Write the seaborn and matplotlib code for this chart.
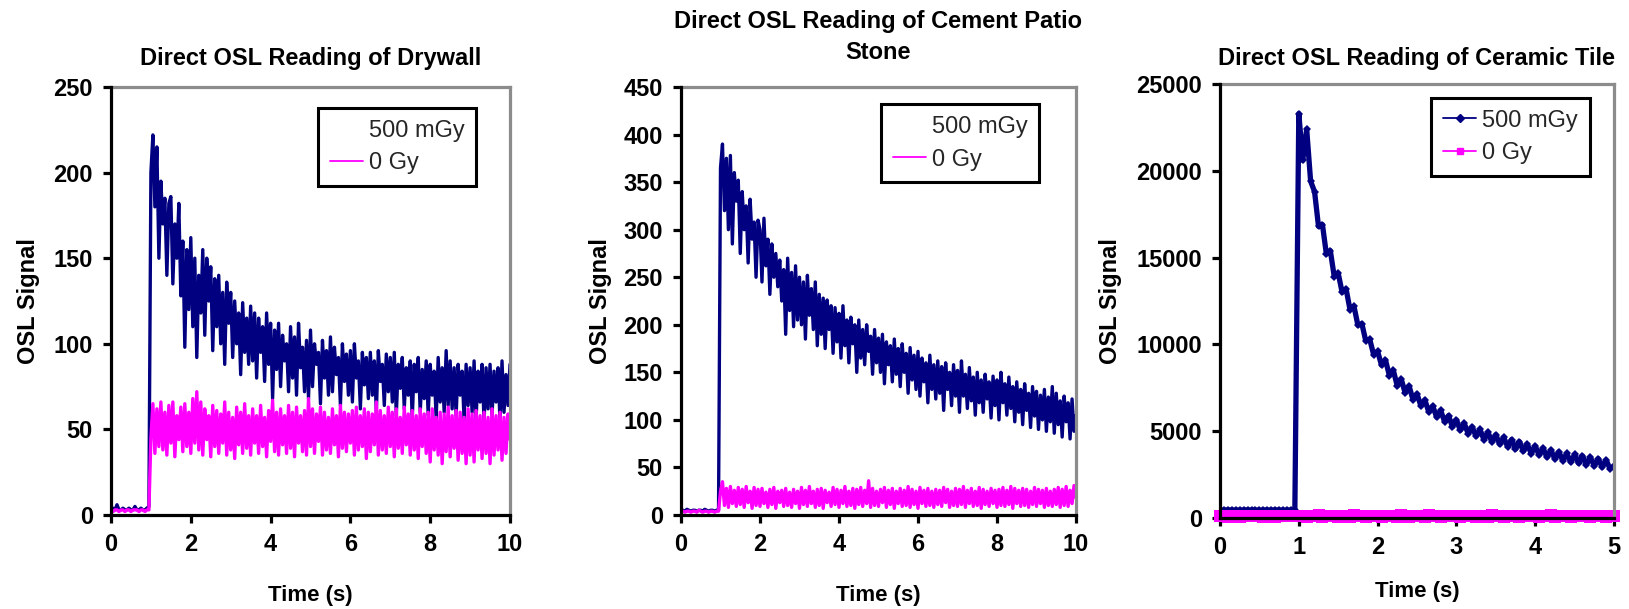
import numpy as np
import pandas as pd
import matplotlib
matplotlib.use("Agg")
import matplotlib.pyplot as plt
import seaborn as sns
from matplotlib.lines import Line2D

# ---------------- data ----------------
series_labels = ["500 mGy", "0 Gy"]
titles = ["Direct OSL Reading of Drywall",
          "Direct OSL Reading of Cement Patio\nStone",
          "Direct OSL Reading of Ceramic Tile"]
x_label = "Time (s)"
y_label = "OSL Signal"

time_10s = np.round(np.arange(0, 10.001, 0.05), 2)   # 201 samples, 0..10 s
time_5s = np.round(np.arange(0, 5.001, 0.05), 2)     # 101 samples, 0..5 s

drywall_500 = [3, 4, 3, 6, 3, 3, 4, 3, 3, 4, 3, 3, 5, 3, 3, 4, 3, 3, 4, 5,
               200, 222, 180, 215, 150, 195, 170, 185, 140, 182,
               186, 135, 170, 150, 182, 128, 160, 98, 155, 120,
               162, 110, 150, 92, 140, 118, 155, 105, 150, 125,
               145, 96, 138, 110, 140, 100, 130, 88, 136, 112,
               130, 92, 125, 100, 118, 82, 124, 95, 115, 88,
               122, 90, 118, 80, 115, 95, 110, 78, 118, 88,
               112, 68, 108, 85, 112, 75, 105, 90, 100, 72,
               110, 80, 104, 70, 112, 86, 98, 72, 102, 68,
               108, 75, 100, 88, 95, 65, 102, 80, 96, 70,
               104, 72, 98, 82, 92, 64, 100, 78, 94, 70,
               96, 66, 100, 80, 90, 62, 95, 76, 92, 68,
               95, 70, 90, 60, 96, 78, 88, 64, 94, 72,
               92, 66, 95, 58, 88, 74, 92, 62, 86, 70,
               90, 56, 88, 72, 92, 60, 85, 68, 90, 58,
               88, 70, 84, 56, 92, 66, 86, 60, 96, 64,
               90, 62, 86, 58, 88, 70, 84, 55, 88, 64,
               86, 60, 90, 56, 84, 66, 88, 54, 86, 62,
               88, 58, 84, 66, 86, 54, 90, 60, 82, 64,
               88]

drywall_0 = [3, 2, 3, 3, 2, 3, 3, 2, 3, 3, 2, 3, 3, 3, 2, 3, 3, 2, 3, 3,
             45, 65, 36, 62, 40, 66, 38, 60, 35, 64,
             42, 66, 34, 58, 44, 63, 37, 65, 40, 60,
             36, 68, 42, 72, 38, 66, 35, 62, 44, 58,
             34, 64, 40, 61, 36, 59, 42, 66, 35, 60,
             38, 57, 33, 63, 41, 60, 36, 65, 39, 58,
             35, 62, 42, 58, 36, 64, 40, 57, 34, 61,
             43, 67, 37, 60, 35, 62, 41, 58, 36, 64,
             39, 60, 34, 63, 42, 58, 37, 61, 35, 68,
             40, 62, 36, 59, 43, 63, 35, 60, 38, 57,
             36, 62, 41, 58, 34, 64, 39, 60, 37, 59,
             42, 61, 35, 63, 38, 58, 40, 62, 33, 60,
             37, 59, 41, 66, 35, 61, 38, 58, 36, 63,
             40, 60, 34, 62, 39, 57, 36, 63, 41, 59,
             35, 61, 38, 58, 33, 62, 40, 59, 36, 60,
             31, 62, 38, 57, 35, 60, 30, 59, 37, 63,
             34, 58, 39, 61, 32, 60, 36, 57, 30, 62,
             35, 59, 31, 61, 38, 58, 33, 60, 36, 57,
             30, 62, 35, 58, 38, 60, 32, 57, 36, 59,
             44]

cement_500 = [5, 5, 4, 6, 5, 4, 5, 5, 4, 5, 5, 4, 6, 5, 4, 5, 5, 4, 5, 5,
              365, 390, 320, 375, 300, 378, 285, 360, 330, 352,
              275, 340, 300, 325, 265, 332, 290, 308, 250, 310,
              300, 245, 312, 262, 290, 232, 285, 250, 275, 240,
              268, 225, 258, 190, 270, 215, 255, 198, 262, 205,
              250, 200, 245, 185, 252, 210, 238, 195, 245, 178,
              232, 190, 228, 175, 226, 195, 220, 170, 218, 182,
              212, 165, 220, 178, 205, 160, 208, 180, 200, 150,
              205, 165, 195, 158, 200, 172, 188, 148, 195, 160,
              186, 150, 190, 138, 182, 158, 178, 140, 185, 148,
              175, 135, 180, 150, 170, 128, 176, 142, 168, 132,
              172, 125, 165, 140, 160, 118, 168, 132, 158, 122,
              162, 128, 156, 110, 160, 132, 150, 115, 158, 125,
              152, 108, 162, 125, 148, 112, 155, 120, 145, 105,
              150, 118, 142, 108, 148, 122, 140, 102, 146, 115,
              142, 100, 150, 118, 138, 105, 145, 112, 135, 98,
              140, 108, 132, 95, 138, 110, 128, 92, 135, 104,
              130, 90, 126, 100, 132, 88, 124, 98, 135, 86,
              128, 95, 120, 82, 125, 98, 118, 80, 122, 88,
              105]

cement_0 = [4, 4, 3, 4, 4, 3, 4, 4, 3, 5, 4, 3, 4, 4, 3, 4, 4, 3, 4, 4,
            25, 35, 10, 28, 8, 30, 12, 26, 9, 29,
            11, 27, 8, 30, 13, 25, 7, 29, 10, 27,
            9, 28, 12, 24, 8, 27, 11, 29, 7, 25,
            13, 26, 9, 28, 10, 24, 8, 27, 12, 25,
            7, 29, 11, 26, 9, 30, 12, 25, 8, 27,
            10, 28, 7, 26, 13, 24, 9, 29, 11, 27,
            8, 26, 12, 30, 9, 25, 10, 28, 7, 27,
            11, 29, 9, 26, 12, 36, 8, 28, 10, 25,
            9, 27, 13, 29, 8, 26, 11, 28, 7, 25,
            12, 28, 9, 26, 10, 30, 8, 27, 11, 25,
            7, 29, 12, 26, 9, 28, 10, 25, 8, 27,
            11, 26, 9, 29, 13, 27, 8, 25, 10, 28,
            9, 27, 11, 30, 8, 26, 12, 28, 9, 25,
            10, 29, 7, 27, 11, 25, 9, 28, 12, 26,
            8, 27, 10, 29, 9, 26, 11, 30, 7, 28,
            12, 26, 9, 28, 10, 27, 8, 25, 11, 29,
            9, 27, 12, 26, 8, 28, 10, 25, 9, 27,
            11, 29, 8, 27, 10, 30, 9, 26, 12, 31,
            18]

ceramic_500 = [460, 450, 470, 455, 465, 450, 460, 470, 455, 460,
               450, 465, 460, 455, 470, 460, 450, 465, 455, 460,
               23300, 20600, 22400, 19400, 18800, 16800, 16900, 15200, 15400, 13900,
               14100, 13000, 13200, 12000, 12200, 11100, 11200, 10200, 10300, 9400,
               9600, 8800, 9100, 8200, 8500, 7600, 8000, 7200, 7600, 6800,
               7150, 6450, 6800, 6100, 6450, 5800, 6200, 5550, 5900, 5250,
               5650, 5050, 5450, 4850, 5250, 4700, 5100, 4500, 4950, 4380,
               4800, 4240, 4650, 4110, 4520, 3960, 4400, 3840, 4250, 3710,
               4150, 3620, 4030, 3490, 3920, 3390, 3820, 3300, 3720, 3220,
               3660, 3150, 3580, 3070, 3500, 2990, 3420, 2920, 3340, 2830,
               3000]

ceramic_0 = [90, 110, 80, 100, 95, 85, 105, 90, 100, 95,
             110, 80, 95, 105, 85, 100, 90, 110, 95, 100,
             100, 140, 70, 120, 90, 150, 80, 130, 95, 115,
             70, 135, 105, 85, 145, 90, 120, 75, 130, 100,
             110, 80, 140, 95, 125, 70, 150, 105, 85, 130,
             95, 120, 80, 145, 100, 115, 75, 135, 90, 125,
             105, 85, 140, 95, 120, 70, 130, 110, 85, 145,
             100, 125, 80, 135, 95, 115, 75, 140, 105, 90,
             130, 80, 120, 95, 145, 85, 110, 100, 135, 75,
             120, 105, 90, 140, 80, 125, 95, 115, 70, 130,
             100]

x_ticks_10 = [0, 2, 4, 6, 8, 10]
x_ticks_5 = [0, 1, 2, 3, 4, 5]
y_ticks_dry = [0, 50, 100, 150, 200, 250]
y_ticks_cem = [0, 50, 100, 150, 200, 250, 300, 350, 400, 450]
y_ticks_cer = [0, 5000, 10000, 15000, 20000, 25000]

for name, arr, t in [("drywall_500", drywall_500, time_10s), ("drywall_0", drywall_0, time_10s),
                     ("cement_500", cement_500, time_10s), ("cement_0", cement_0, time_10s),
                     ("ceramic_500", ceramic_500, time_5s), ("ceramic_0", ceramic_0, time_5s)]:
    assert len(arr) == len(t), f"{name}: {len(arr)} vs {len(t)}"

df_dry = pd.DataFrame({x_label: time_10s, "500 mGy": drywall_500, "0 Gy": drywall_0})
df_cem = pd.DataFrame({x_label: time_10s, "500 mGy": cement_500, "0 Gy": cement_0})
df_cer = pd.DataFrame({x_label: time_5s, "500 mGy": ceramic_500, "0 Gy": ceramic_0})

# ---------------- style ----------------
sns.set_theme(style="white")
plt.rcParams["font.family"] = ["Liberation Sans", "DejaVu Sans"]

NAVY = "#000080"
MAGENTA = "#FF00FF"
GRAY = "#8C8C8C"

fig = plt.figure(figsize=(16.29, 6.09), dpi=100)
W, H = 1629.0, 609.0

def make_axes(left_px, right_px, top_px, bottom_px):
    return fig.add_axes([left_px / W, 1 - bottom_px / H,
                         (right_px - left_px) / W, (bottom_px - top_px) / H])

ax1 = make_axes(111, 510, 87, 515)
ax2 = make_axes(681, 1076, 87, 515)
ax3 = make_axes(1220, 1614, 84, 518)

def style_axes(ax, xlim, xticks, ylim, yticks, title, title_y, ylab_x, xlab_y, title_ls=1.2):
    ax.set_xlim(*xlim)
    ax.set_ylim(*ylim)
    ax.set_xticks(xticks)
    ax.set_yticks(yticks)
    ax.set_xticklabels([str(v) for v in xticks])
    ax.set_yticklabels([str(v) for v in yticks])
    for s in ["left", "bottom"]:
        ax.spines[s].set_color("black")
        ax.spines[s].set_linewidth(2.3)
        ax.spines[s].set_zorder(5)
    for s in ["top", "right"]:
        ax.spines[s].set_color(GRAY)
        ax.spines[s].set_linewidth(2.3)
    ax.tick_params(axis="both", direction="out", length=6, width=2.3, color="black",
                   labelsize=17, pad=7, left=True, bottom=True, labelcolor="black")
    for lbl in ax.get_xticklabels() + ax.get_yticklabels():
        lbl.set_fontweight("bold")
    ax.set_xlabel(x_label, fontsize=16, fontweight="bold", color="black")
    ax.set_ylabel(y_label, fontsize=17, fontweight="bold", color="black")
    ax.xaxis.set_label_coords(0.5, xlab_y)
    ax.xaxis.label.set_va("center")
    ax.yaxis.set_label_coords(ylab_x, 0.5)
    ax.yaxis.label.set_va("center")
    ax.text(0.5, title_y, title, transform=ax.transAxes, ha="center", va="center",
            fontsize=17, fontweight="bold", color="black", linespacing=title_ls)
    ax.set_facecolor("white")
    ax.grid(False)

# ---- panel 1: drywall ----
sns.lineplot(data=df_dry, x=x_label, y="500 mGy", ax=ax1, color=NAVY, lw=2.4, legend=False)
sns.lineplot(data=df_dry, x=x_label, y="0 Gy", ax=ax1, color=MAGENTA, lw=2.4, legend=False)
style_axes(ax1, (0, 10), x_ticks_10, (0, 250), y_ticks_dry, titles[0],
           (515 - 58) / 428, (29 - 111) / 399, (515 - 596) / 428)

# ---- panel 2: cement patio stone ----
sns.lineplot(data=df_cem, x=x_label, y="500 mGy", ax=ax2, color=NAVY, lw=2.4, legend=False)
sns.lineplot(data=df_cem, x=x_label, y="0 Gy", ax=ax2, color=MAGENTA, lw=2.4, legend=False)
style_axes(ax2, (0, 10), x_ticks_10, (0, 450), y_ticks_cem, titles[1],
           (515 - 37) / 428, (600 - 681) / 395, (515 - 596) / 428, title_ls=1.4)

# ---- panel 3: ceramic tile ----
sns.lineplot(data=df_cer, x=x_label, y="500 mGy", ax=ax3, color=NAVY, lw=3.8,
             marker="D", markersize=4, markeredgewidth=0, legend=False)
sns.lineplot(data=df_cer, x=x_label, y="0 Gy", ax=ax3, color=MAGENTA, lw=5,
             marker="s", markersize=9, markeredgewidth=0, legend=False, clip_on=False)
style_axes(ax3, (0, 5), x_ticks_5, (0, 25000), y_ticks_cer, titles[2],
           (518 - 59) / 434, (1110 - 1220) / 394, (518 - 592) / 434)

# ---- legends ----
def add_legend(ax, handles, x0, ytop):
    leg = ax.legend(handles=handles, labels=series_labels, loc="upper left",
                    bbox_to_anchor=(x0, ytop), borderaxespad=0, fontsize=17,
                    handlelength=1.4, handletextpad=0.25, labelspacing=0.45,
                    borderpad=0.5, frameon=True, fancybox=False, shadow=False)
    fr = leg.get_frame()
    fr.set_edgecolor("black")
    fr.set_linewidth(2.2)
    fr.set_facecolor("white")
    fr.set_alpha(1)
    return leg

plain_handles = [Line2D([], [], color="none", lw=1.3),
                 Line2D([], [], color=MAGENTA, lw=1.3)]
add_legend(ax1, plain_handles, 0.519, 0.951)
add_legend(ax2, plain_handles, 0.506, 0.960)
marker_handles = [Line2D([], [], color=NAVY, lw=1.3, marker="D", markersize=4),
                  Line2D([], [], color=MAGENTA, lw=1.3, marker="s", markersize=5)]
add_legend(ax3, marker_handles, 0.536, 0.968)

fig.savefig("out.png", dpi=100, facecolor="white")
